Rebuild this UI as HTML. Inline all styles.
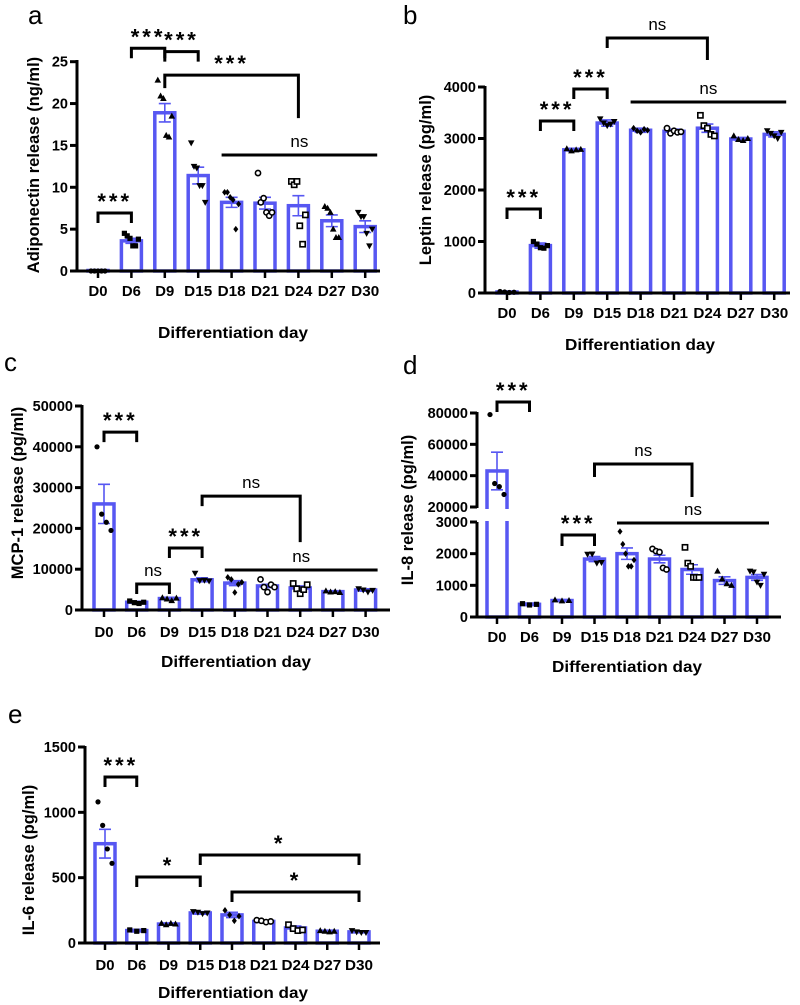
<!DOCTYPE html>
<html><head><meta charset="utf-8">
<style>
html,body{margin:0;padding:0;background:#fff;}
svg{display:block;font-family:"Liberation Sans",sans-serif;}
</style></head>
<body>
<svg id="fig" width="800" height="1005" viewBox="0 0 800 1005" xmlns="http://www.w3.org/2000/svg"></svg>
<script>
const categories = ['D0','D6','D9','D15','D18','D21','D24','D27','D30'];
const shapes = ['circle','square','tri','tridown','diamond','ocircle','osquare','tri','tridown'];

const aMeans = [0,3.6,18.9,11.4,8.2,8.1,7.8,6.0,5.3];
const aSems = [0.05,0.3,1.1,1.0,0.6,0.7,1.2,0.7,0.7];
const aPoints = [[0,0,0,0,0],[4.5,4.2,3.9,3.0,3.0,3.8],[22.8,20.9,20.6,16.2,16.0,18.5],[15.3,12.5,12.3,10.2,10.2,8.2],[9.4,9.4,8.8,8.5,5.0,8.0],[11.7,8.2,8.7,7.0,6.6,7.0],[10.7,10.3,10.7,5.4,3.2,6.7],[7.7,7.5,7.0,5.0,4.0,4.0],[7.0,6.5,6.5,4.5,3.0,5.0]];
const aTicks = [0,5,10,15,20,25];
const aTickLabels = ['0','5','10','15','20','25'];
const aBrackets = [[0,1,6.93,10,10,'***'],[1,2,26.6,10,10,'***'],[2,3,26.2,10,10,'***'],[2,6,23.4,13,43,'***'],[4,8,13.85,0,0,'ns']];

const bMeans = [20,920,2780,3300,3160,3140,3200,2990,3080];
const bSems = [10,50,30,60,40,40,80,30,50];
const bPoints = [[30,20,10,15],[1000,950,880,870,920],[2800,2760,2780,2790],[3380,3300,3250,3280,3330],[3200,3150,3120,3180,3160],[3200,3100,3150,3120,3130],[3450,3250,3200,3080,3050],[3050,2980,2960,3000],[3150,3100,3050,3000,3120]];
const bTicks = [0,1000,2000,3000,4000];
const bTickLabels = ['0','1000','2000','3000','4000'];
const bBrackets = [[0,1,1631,10,10,'***'],[1,2,3340,10,10,'***'],[2,3,3961,10,10,'***'],[3,6,4951,10,22,'ns'],[4,8,3709,0,0,'ns']];

const cMeans = [26000,1900,2800,7400,6600,5900,5400,4500,4900];
const cSems = [4800,200,300,500,600,400,500,200,300];
const cPoints = [[40000,23500,21500,19500],[2200,1800,1600,1900],[3000,2700,2300,2900],[9000,7200,7300,7100],[8000,7500,4300,6300,6800],[7500,5600,4400,6200,5600],[6500,5200,4000,5000,6200],[4700,4400,4500,4300],[5200,4900,4400,4800]];
const cTicks = [0,10000,20000,30000,40000,50000];
const cTickLabels = ['0','10000','20000','30000','40000','50000'];
const cBrackets = [[0,1,43600,10,10,'***'],[1,2,6370,10,10,'ns'],[2,3,15200,10,10,'***'],[3,6,27900,10,46,'ns'],[4,8,9800,0,0,'ns']];

const dMeans = [43000,400,520,1830,2000,1830,1500,1150,1250];
const dSems = [12000,40,30,80,180,120,150,120,90];
const dPoints = [[79000,35000,33000,28000],[420,380,400],[540,510,520],[1980,1990,1700,1720],[2700,2300,2000,1600,1600,1800],[2150,2080,2050,1550,1500],[2200,1700,1600,1250,1250,1250],[1450,1200,1050,1000],[1450,1420,1100,1000,1350]];
const dTicksLow = [0,1000,2000,3000];
const dTickLabelsLow = ['0','1000','2000','3000'];
const dTicksHigh = [20000,40000,60000,80000];
const dTickLabelsHigh = ['20000','40000','60000','80000'];
const dBrackets = [[0,1,87000,10,10,'***'],[3,6,47450,13,33,'ns'],[4,8,2968,0,0,'ns'],[2,3,2590,11,11,'***']];

const eMeans = [760,95,145,230,215,165,115,90,85];
const eSems = [110,10,8,10,20,8,15,8,6];
const ePoints = [[1080,900,720,610],[100,90,95],[150,140,150,145],[240,235,225,230],[250,215,170,205],[175,170,160,165],[140,110,95,100],[95,90,85,90],[95,85,80,80]];
const eTicks = [0,500,1000,1500];
const eTickLabels = ['0','500','1000','1500'];
const eBrackets = [[0,1,1270,10,10,'***'],[1,3,505,10,10,'*'],[3,8,673,10,10,'*'],[4,8,390,10,10,'*']];

const NS='http://www.w3.org/2000/svg';
const svg=document.getElementById('fig');
const BLUE='#5757f2';
function mk(tag,attrs,parent){const e=document.createElementNS(NS,tag);for(const k in attrs)e.setAttribute(k,attrs[k]);(parent||svg).appendChild(e);return e;}

function linScale(v0,p0,v1,p1){return v=>p0+(v-v0)*(p1-p0)/(v1-v0);}

function panel(P){
  const g=mk('g',{});
  
  
  const xs=i=>P.x0+i*P.step;
  const ys=P.ys;
  const bw=P.bw||20;
  const L=mk('text',{x:P.letter[1],y:P.letter[2],'font-size':26,fill:'#000'},g);L.textContent=P.letter[0];
  
  
  P.means.forEach((m,i)=>{
    const x=xs(i),y=ys(m),y0=ys(0);
    const r=mk('rect',{x:x-bw/2,y:Math.min(y,y0-0.5),width:bw,height:Math.max(0.5,y0-y),fill:'#fff',stroke:BLUE,'stroke-width':3.5},g);
    
    
  });
  if(P.gap){const w=mk('rect',{x:P.axX-10,y:P.gap[0],width:P.xEnd-P.axX+20,height:P.gap[1]-P.gap[0],fill:'#fff'},g);}
  P.means.forEach((m,i)=>{
    const x=xs(i),yt=ys(m+P.sems[i]),yb=ys(Math.max(0,m-P.sems[i]));
    const e=mk('path',{d:`M${x},${yb}V${yt}M${x-6},${yt}H${x+6}M${x-6},${yb}H${x+6}`,stroke:BLUE,'stroke-width':1.6,fill:'none'},g);
    
    
  });
  P.pts.forEach((arr,i)=>{
    const n=arr.length;
    arr.forEach((v,j)=>{
      const x=xs(i)+(n>1?(-7+14*j/(n-1)):0), y=ys(v), s=shapes[i], r=2.6;
      let el;
      if(s==='circle') el=mk('circle',{cx:x,cy:y,r:r,fill:'#000'},g);
      else if(s==='ocircle') el=mk('circle',{cx:x,cy:y,r:2.6,fill:'#fff',stroke:'#000','stroke-width':1.6},g);
      else if(s==='square') el=mk('rect',{x:x-r,y:y-r,width:2*r,height:2*r,fill:'#000'},g);
      else if(s==='osquare') el=mk('rect',{x:x-2.6,y:y-2.6,width:5.2,height:5.2,fill:'#fff',stroke:'#000','stroke-width':1.6},g);
      else if(s==='tri') el=mk('path',{d:`M${x},${y-3.5}L${x+3.3},${y+2.5}L${x-3.3},${y+2.5}Z`,fill:'#000'},g);
      else if(s==='tridown') el=mk('path',{d:`M${x},${y+3.5}L${x+3.3},${y-2.5}L${x-3.3},${y-2.5}Z`,fill:'#000'},g);
      else el=mk('path',{d:`M${x},${y-3.3}L${x+2.5},${y}L${x},${y+3.3}L${x-2.5},${y}Z`,fill:'#000'},g);
      
      
    });
  });
  const y0=ys(0);
  P.axisSegs.forEach(seg=>{
    const a=mk('line',{x1:P.axX,y1:seg[0],x2:P.axX,y2:seg[1],stroke:'#000','stroke-width':3},g);
    
    
  });
  const xa=mk('line',{x1:P.axX-1.5,y1:y0,x2:P.xEnd,y2:y0,stroke:'#000','stroke-width':3},g);
  
  
  P.tickSets.forEach(ts=>{
    ts[0].forEach((t,k)=>{
      const y=ys(t);
      mk('line',{x1:P.axX-7,y1:y,x2:P.axX,y2:y,stroke:'#000','stroke-width':3},g);
      const tl=mk('text',{x:P.axX-9,y:y+5,'text-anchor':'end','font-size':14.5,'font-weight':'bold'},g);
      tl.textContent=ts[1][k];
      
      
    });
  });
  categories.forEach((c,i)=>{
    const x=xs(i);
    mk('line',{x1:x,y1:y0,x2:x,y2:y0+7,stroke:'#000','stroke-width':2.5},g);
    const tl=mk('text',{x:x,y:P.catY+5,'text-anchor':'middle','font-size':14.5,'font-weight':'bold',textLength:c.length>2?28:19,lengthAdjust:'spacingAndGlyphs'},g);
    tl.textContent=c;
    
    
  });
  const xt=mk('text',{x:P.xTitle[0],y:P.xTitle[1]+5,'text-anchor':'middle','font-size':16,'font-weight':'bold',textLength:150,lengthAdjust:'spacingAndGlyphs'},g);
  xt.textContent='Differentiation day';
  
  
  const yt=mk('text',{x:0,y:0,'text-anchor':'middle','font-size':16.5,'font-weight':'bold',transform:`translate(${P.yTitle[0]+6},${P.yTitle[1]}) rotate(-90)`},g);
  yt.textContent=P.yTitle[2];
  
  
  P.brackets.forEach(b=>{
    const [i1,i2,v,dl,dr,lab]=b;
    const y=ys(v);
    let x1=xs(i1),x2=xs(i2);
    let d;
    if(dl===0&&dr===0){x1-=10;x2+=12;d=`M${x1},${y}H${x2}`;}
    else d=`M${x1},${y+dl}V${y}H${x2}V${y+dr}`;
    const p=mk('path',{d:d,stroke:'#000','stroke-width':3,fill:'none'},g);
    
    
    const t=mk('text',{x:(x1+x2)/2,y:lab==='ns'?y-8:y-4,'text-anchor':'middle','font-size':lab==='ns'?17:22,'letter-spacing':lab==='ns'?0:3,'font-weight':lab==='ns'?'normal':'bold'},g);
    t.textContent=lab;
    
    
  });
}

panel({name:'panel-a',letter:['a',28,24],axX:77,xEnd:380,x0:98,step:33.4,ys:linScale(0,271,25,61.7),
  means:aMeans,sems:aSems,pts:aPoints,axisSegs:[[60,272]],tickSets:[[aTicks,aTickLabels]],
  catY:291,xTitle:[233,333],yTitle:[33,165,'Adiponectin release (ng/ml)'],brackets:aBrackets});
panel({name:'panel-b',letter:['b',403,24],axX:485,xEnd:790,x0:507,step:33.4,ys:linScale(0,293,4000,87),
  means:bMeans,sems:bSems,pts:bPoints,axisSegs:[[86,294]],tickSets:[[bTicks,bTickLabels]],
  catY:313,xTitle:[640,345],yTitle:[425,180,'Leptin release (pg/ml)'],brackets:bBrackets});
panel({name:'panel-c',letter:['c',4,371],axX:82,xEnd:390,x0:104,step:32.7,ys:linScale(0,610,50000,406),
  means:cMeans,sems:cSems,pts:cPoints,axisSegs:[[405,611]],tickSets:[[cTicks,cTickLabels]],
  catY:632,xTitle:[236,662],yTitle:[17,493,'MCP-1 release (pg/ml)'],brackets:cBrackets});
const dLow=linScale(0,617,3000,522), dHigh=linScale(20000,507,80000,413);
panel({name:'panel-d',letter:['d',403,374],axX:477,xEnd:781,x0:497,step:32.5,ys:v=>v>3000?dHigh(v):dLow(v),gap:[509,521],
  means:dMeans,sems:dSems,pts:dPoints,axisSegs:[[412,508],[522,618]],tickSets:[[dTicksLow,dTickLabelsLow],[dTicksHigh,dTickLabelsHigh]],
  catY:637,xTitle:[627,667],yTitle:[407,510,'IL-8 release (pg/ml)'],brackets:dBrackets});
panel({name:'panel-e',letter:['e',8,723],axX:85,xEnd:380,x0:105,step:31.75,ys:linScale(0,943,1500,747),
  means:eMeans,sems:eSems,pts:ePoints,axisSegs:[[746,944]],tickSets:[[eTicks,eTickLabels]],
  catY:965,xTitle:[233,993],yTitle:[28,860,'IL-6 release (pg/ml)'],brackets:eBrackets});
</script>
</body></html>
